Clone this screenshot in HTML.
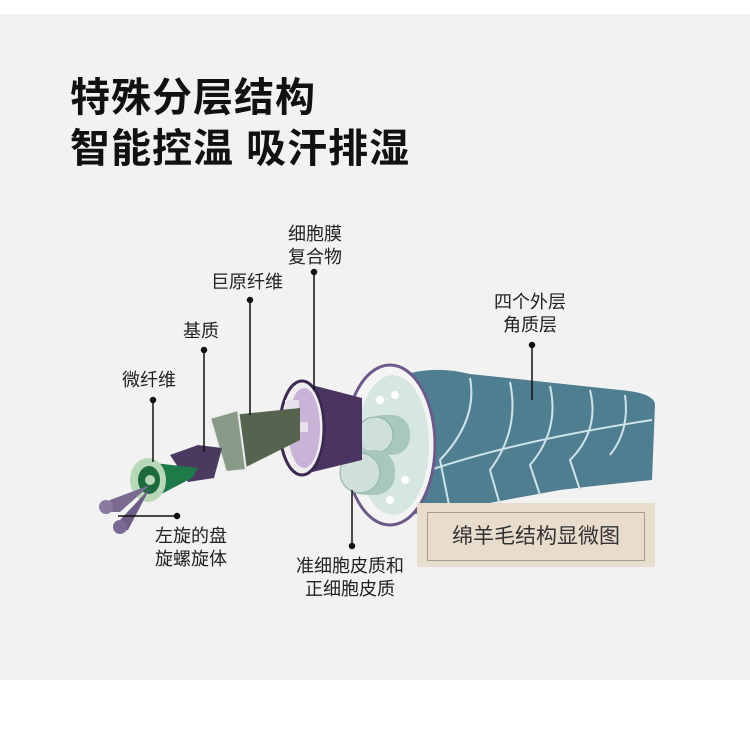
<!DOCTYPE html>
<html><head><meta charset="utf-8"><style>
html,body{margin:0;padding:0;width:750px;height:736px;background:#fff;overflow:hidden}
.bg{position:absolute;left:0;top:14px;width:750px;height:666px;background:#f2f2f2}
.t{position:absolute;font-family:"Liberation Sans","Noto Sans CJK SC",sans-serif;color:#111;white-space:nowrap}
.h{font-size:40px;font-weight:bold;left:70px;letter-spacing:1px;line-height:44px}
.l{font-size:18px;line-height:23px;color:#222}
.c{text-align:center}
svg{position:absolute;left:0;top:0}
</style></head><body>
<div class="bg"></div>
<div class="t h" style="top:76px">特殊分层结构</div>
<div class="t h" style="top:127px">智能控温 吸汗排湿</div>
<svg width="750" height="736">
<path d="M395,378 Q430,364 470,374 L620,390 Q655,393 655,405 L652,480 Q600,485 560,490 L440,512 Q400,520 400,500 Z" fill="#4f7e90"/>
<g stroke="#cfe3ea" stroke-width="2" fill="none">
<path d="M470,378 Q478,420 440,460 L450,510"/>
<path d="M510,382 Q520,430 490,470 L500,505"/>
<path d="M550,386 Q560,430 530,465 L540,495"/>
<path d="M590,390 Q600,430 570,460 L580,490"/>
<path d="M625,395 Q630,430 610,455"/>
<path d="M430,470 Q520,440 652,420"/>
</g>
<ellipse cx="390" cy="445" rx="45" ry="80" fill="#f4f4f4" stroke="#6b5a8a" stroke-width="3"/>
<ellipse cx="393" cy="445" rx="36" ry="70" fill="#d6e6e0"/>
<g fill="#fff"><circle cx="380" cy="400" r="4"/><circle cx="395" cy="395" r="4"/><circle cx="405" cy="480" r="4"/><circle cx="390" cy="500" r="4"/></g>
<rect x="365" y="415" width="45" height="40" rx="18" fill="#a8c8be"/>
<circle cx="375" cy="435" r="18" fill="#cfe0da" stroke="#8fb0a8"/>
<rect x="345" y="450" width="50" height="45" rx="20" fill="#a8c8be"/>
<circle cx="360" cy="473" r="20" fill="#cfe0da" stroke="#8fb0a8"/>
<path d="M300,382 L362,398 L362,460 L300,475 Z" fill="#4a3560"/>
<ellipse cx="302" cy="428" rx="22" ry="47" fill="#eee" stroke="#3b2a4f" stroke-width="3"/>
<ellipse cx="304" cy="428" rx="16" ry="40" fill="#c9b3d6"/>
<rect x="285" y="400" width="14" height="10" fill="#e8e0ea"/>
<rect x="292" y="422" width="16" height="10" fill="#e8e0ea"/>
<path d="M232,415 L300,408 L300,440 L240,470 Z" fill="#56644f"/>
<path d="M210,418 L238,410 L246,470 L226,472 Z" fill="#8a9a88" stroke="#eee" stroke-width="2"/>
<path d="M170,455 L198,445 L222,448 L214,478 L188,482 Z" fill="#4a3a60"/>
<path d="M145,462 L198,468 L192,478 L150,500 Z" fill="#1f7a4a"/>
<ellipse cx="148" cy="480" rx="18" ry="22" fill="#b8d8b8"/>
<ellipse cx="149" cy="480" rx="11" ry="14" fill="#1d6a3e"/>
<circle cx="150" cy="480" r="5" fill="#b8d8b8"/>
<path d="M150,485 L110,500 L105,512 L120,512 Z" fill="#7a6a90"/>
<path d="M150,488 L120,520 L115,532 L128,530 Z" fill="#6d5d85"/>
<circle cx="106" cy="507" r="7" fill="#8a7aa0"/><circle cx="120" cy="527" r="7" fill="#7a6a95"/>
<g stroke="#111" stroke-width="1.5" fill="#111">
<line x1="314" y1="272" x2="314" y2="390"/><circle cx="314" cy="272" r="2.5"/>
<line x1="250" y1="300" x2="250" y2="415"/><circle cx="250" cy="300" r="2.5"/>
<line x1="204" y1="350" x2="204" y2="452"/><circle cx="204" cy="350" r="2.5"/>
<line x1="153" y1="400" x2="153" y2="462"/><circle cx="153" cy="400" r="2.5"/>
<line x1="532" y1="345" x2="532" y2="400"/><circle cx="532" cy="345" r="2.5"/>
<line x1="118" y1="516" x2="177" y2="516"/><circle cx="177" cy="516" r="2.5"/>
<line x1="352" y1="490" x2="352" y2="546"/><circle cx="352" cy="546" r="2.5"/>
</g>
</svg>
<div class="t l c" style="left:284px;top:223px;width:62px">细胞膜<br>复合物</div>
<div class="t l" style="left:211px;top:271px">巨原纤维</div>
<div class="t l" style="left:183px;top:320px">基质</div>
<div class="t l" style="left:122px;top:369px">微纤维</div>
<div class="t l c" style="left:490px;top:291px;width:80px">四个外层<br>角质层</div>
<div class="t l" style="left:155px;top:525px">左旋的盘<br>旋螺旋体</div>
<div class="t l c" style="left:290px;top:555px;width:120px">准细胞皮质和<br>正细胞皮质</div>
<div style="position:absolute;left:417px;top:503px;width:238px;height:64px;background:#e8dccd"></div>
<div style="position:absolute;left:427px;top:512px;width:216px;height:47px;border:1px solid #a89c8f"></div>
<div class="t" style="left:427px;top:512px;width:218px;height:49px;line-height:49px;text-align:center;font-size:21px;color:#333">绵羊毛结构显微图</div>
</body></html>
